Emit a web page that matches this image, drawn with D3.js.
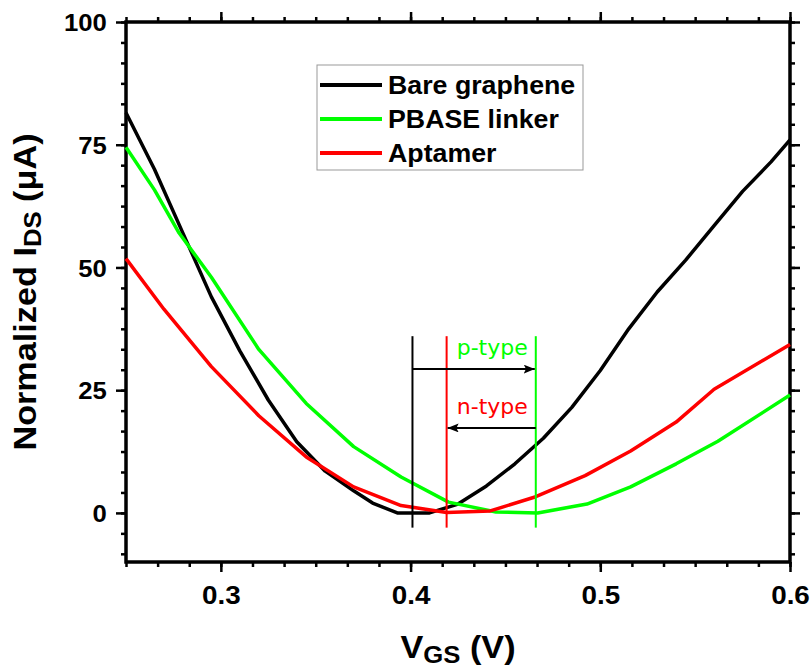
<!DOCTYPE html>
<html>
<head>
<meta charset="utf-8">
<script src="https://cdn.jsdelivr.net/npm/d3@7"></script>
<style>
  body { margin: 0; background: #fff; }
  svg { display: block; }
  .bold { font-family: "Liberation Sans", Arial, sans-serif; font-weight: bold; }
</style>
</head>
<body>
<svg width="811" height="669"></svg>
<script>
// gate voltage (V) and normalized drain current (uA)
var bareV = [0.25, 0.265, 0.28, 0.295, 0.31, 0.325, 0.34, 0.355, 0.37, 0.38, 0.393, 0.41, 0.425, 0.44, 0.455, 0.47, 0.485, 0.5, 0.515, 0.53, 0.545, 0.56, 0.575, 0.59, 0.6];
var bareI = [81.5, 70, 57, 44, 33, 23, 14.5, 8.5, 4.5, 2, 0, 0, 1.8, 5.5, 10, 15.2, 21.5, 29, 37.5, 45, 51.5, 58.5, 65.5, 71.5, 76];

var pbaseV = [0.25, 0.265, 0.278, 0.295, 0.32, 0.345, 0.37, 0.395, 0.42, 0.445, 0.467, 0.493, 0.516, 0.54, 0.562, 0.6];
var pbaseI = [74.5, 65.8, 57, 48, 33.3, 22.3, 13.5, 7.3, 2.2, 0.2, 0, 1.8, 5.3, 10, 14.6, 24];

var aptV = [0.25, 0.27, 0.295, 0.32, 0.345, 0.37, 0.395, 0.419, 0.442, 0.466, 0.492, 0.516, 0.54, 0.56, 0.6];
var aptI = [51.8, 41.5, 29.8, 19.8, 11.4, 5.3, 1.5, 0.1, 0.4, 3.3, 7.6, 12.6, 18.5, 25.2, 34.3];

var seriesNames = ["Bare graphene", "PBASE linker", "Aptamer"];
var seriesColors = ["#000000", "#00ff00", "#ff0000"];

// Dirac point of each series (same order as above), marked with vertical lines
var diracV = [0.401, 0.466, 0.419];
var markTop = 36, markBottom = -3;

var xTicks = [0.3, 0.4, 0.5, 0.6];
var yTicks = [0, 25, 50, 75, 100];

var svg = d3.select("svg");
var plotL = 126, plotR = 790, plotT = 22, plotB = 562;
var sx = 1.07; // source text is slightly wide

var x = d3.scaleLinear().domain([0.25, 0.6]).range([plotL, plotR]);
var y = d3.scaleLinear().domain([-10, 100]).range([plotB, plotT]);

var xMinor = d3.range(0, 22).map(function(i) { return 0.25 + i / 60; });
var yMinor = d3.range(-2, 25).map(function(i) { return i * 25 / 6; });

var series = [
  { v: bareV, i: bareI },
  { v: pbaseV, i: pbaseI },
  { v: aptV, i: aptI }
];

// minor ticks on all four sides
svg.append("g").attr("transform", "translate(0," + plotB + ")")
  .call(d3.axisBottom(x).tickValues(xMinor).tickSize(5).tickFormat(""));
svg.append("g").attr("transform", "translate(0," + plotT + ")")
  .call(d3.axisTop(x).tickValues(xMinor).tickSize(5).tickFormat(""));
svg.append("g").attr("transform", "translate(" + plotL + ",0)")
  .call(d3.axisLeft(y).tickValues(yMinor).tickSize(5).tickFormat(""));
svg.append("g").attr("transform", "translate(" + plotR + ",0)")
  .call(d3.axisRight(y).tickValues(yMinor).tickSize(5).tickFormat(""));

// major ticks
var xAxis = svg.append("g").attr("transform", "translate(0," + plotB + ")")
  .call(d3.axisBottom(x).tickValues(xTicks).tickSize(10).tickFormat(d3.format(".1f")));
svg.append("g").attr("transform", "translate(0," + plotT + ")")
  .call(d3.axisTop(x).tickValues(xTicks).tickSize(10).tickFormat(""));
var yAxis = svg.append("g").attr("transform", "translate(" + plotL + ",0)")
  .call(d3.axisLeft(y).tickValues(yTicks).tickSize(10));
svg.append("g").attr("transform", "translate(" + plotR + ",0)")
  .call(d3.axisRight(y).tickValues(yTicks).tickSize(10).tickFormat(""));

svg.selectAll(".domain").remove();
svg.selectAll(".tick line").attr("stroke", "#000").attr("stroke-width", 2.5);

xAxis.selectAll("text")
  .attr("class", "bold").attr("font-size", 26).attr("fill", "#000")
  .attr("y", 42).attr("dy", 0)
  .attr("transform", "scale(" + sx + ",1)");
yAxis.selectAll("text")
  .attr("class", "bold").attr("font-size", 24).attr("fill", "#000")
  .attr("x", -18).attr("dy", "0.36em")
  .attr("transform", "scale(" + sx + ",1)");

// frame
svg.append("rect")
  .attr("x", plotL).attr("y", plotT)
  .attr("width", plotR - plotL).attr("height", plotB - plotT)
  .attr("fill", "none").attr("stroke", "#000").attr("stroke-width", 3.5);

// curves
var line = d3.line()
  .x(function(d) { return x(d[0]); })
  .y(function(d) { return y(d[1]); });

svg.append("g")
  .selectAll("path")
  .data(series)
  .enter().append("path")
  .attr("fill", "none")
  .attr("stroke", function(d, k) { return seriesColors[k]; })
  .attr("stroke-width", 3.5)
  .attr("stroke-linejoin", "round")
  .attr("d", function(d) { return line(d3.zip(d.v, d.i)); });

// dirac point markers
svg.append("g")
  .selectAll("line")
  .data(diracV)
  .enter().append("line")
  .attr("x1", function(d) { return x(d); })
  .attr("x2", function(d) { return x(d); })
  .attr("y1", y(markTop))
  .attr("y2", y(markBottom))
  .attr("stroke", function(d, k) { return seriesColors[k]; })
  .attr("stroke-width", 2);

svg.append("defs").append("marker")
  .attr("id", "head")
  .attr("markerUnits", "userSpaceOnUse")
  .attr("viewBox", "0 0 10 8")
  .attr("refX", 10).attr("refY", 4)
  .attr("markerWidth", 11).attr("markerHeight", 9)
  .attr("orient", "auto")
  .append("path")
  .attr("d", "M0,0 L10,4 L0,8 L2,4 Z")
  .attr("fill", "#000");

var shifts = [
  { from: diracV[0], to: diracV[1], at: 29.3, label: "p-type", color: seriesColors[1] },
  { from: diracV[1], to: diracV[2], at: 17.3, label: "n-type", color: seriesColors[2] }
];

svg.append("g")
  .selectAll("line")
  .data(shifts)
  .enter().append("line")
  .attr("x1", function(d) { return x(d.from); })
  .attr("x2", function(d) { return x(d.to) + (d.to > d.from ? -1 : 1); })
  .attr("y1", function(d) { return y(d.at); })
  .attr("y2", function(d) { return y(d.at); })
  .attr("stroke", "#000")
  .attr("stroke-width", 2)
  .attr("marker-end", "url(#head)");

svg.append("g")
  .selectAll("text")
  .data(shifts)
  .enter().append("text")
  .attr("x", x(diracV[1]) - 8)
  .attr("y", function(d) { return y(d.at) - 14; })
  .attr("text-anchor", "end")
  .attr("font-family", "DejaVu Sans, Verdana, sans-serif")
  .attr("font-size", 22)
  .attr("fill", function(d) { return d.color; })
  .text(function(d) { return d.label; });

// legend
var legend = svg.append("g").attr("transform", "translate(317,65)");
legend.append("rect")
  .attr("width", 266).attr("height", 105)
  .attr("fill", "#fff").attr("stroke", "#999").attr("stroke-width", 1);

var entry = legend.selectAll("g.entry")
  .data(seriesNames)
  .enter().append("g")
  .attr("class", "entry")
  .attr("transform", function(d, k) { return "translate(0," + (20 + k * 34) + ")"; });

entry.append("line")
  .attr("x1", 3).attr("x2", 65)
  .attr("stroke", function(d, k) { return seriesColors[k]; })
  .attr("stroke-width", 4);

entry.append("text")
  .attr("class", "bold")
  .attr("font-size", 25)
  .attr("transform", "translate(71,9) scale(" + sx + ",1)")
  .text(function(d) { return d; });

// axis titles
var xTitle = svg.append("text")
  .attr("class", "bold")
  .attr("font-size", 32)
  .attr("text-anchor", "middle")
  .attr("transform", "translate(" + (plotL + plotR) / 2 + ",658) scale(" + sx + ",1)");
xTitle.append("tspan").text("V");
xTitle.append("tspan").attr("font-size", 24).attr("dy", 5).text("GS");
xTitle.append("tspan").attr("dy", -5).text(" (V)");

var yTitle = svg.append("text")
  .attr("class", "bold")
  .attr("font-size", 32)
  .attr("text-anchor", "middle")
  .attr("transform", "translate(36," + (plotT + plotB) / 2 + ") rotate(-90) scale(" + sx + ",1)");
yTitle.append("tspan").text("Normalized I");
yTitle.append("tspan").attr("font-size", 24).attr("dy", 5).text("DS");
yTitle.append("tspan").attr("dy", -5).text(" (\u03bcA)");
</script>
</body>
</html>
